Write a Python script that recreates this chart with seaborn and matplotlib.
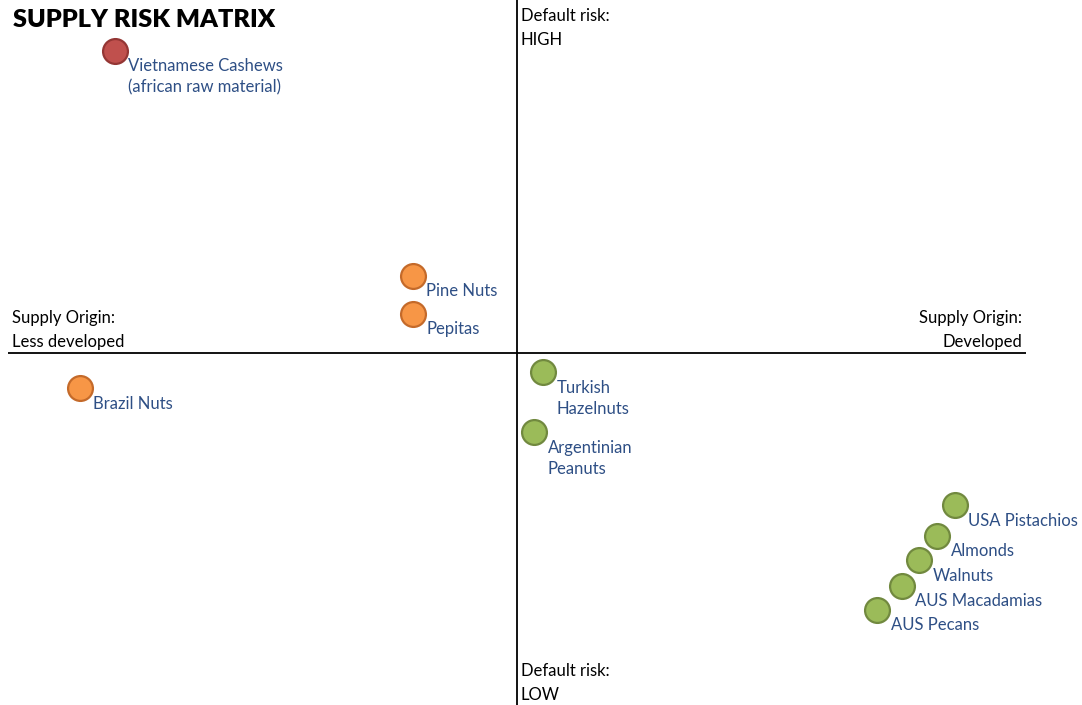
import matplotlib
matplotlib.use("Agg")
import matplotlib.pyplot as plt
import seaborn as sns
import pandas as pd

# ---- data ----
products = ["Vietnamese Cashews\n(african raw material)", "Pine Nuts", "Pepitas", "Brazil Nuts",
            "Turkish\nHazelnuts", "Argentinian\nPeanuts", "USA Pistachios", "Almonds",
            "Walnuts", "AUS Macadamias", "AUS Pecans"]
supply_origin = [-3.95, -1.02, -1.02, -4.29, 0.26, 0.17, 4.30, 4.13, 3.95, 3.78, 3.54]
default_risk = [4.28, 1.09, 0.55, -0.51, -0.28, -1.13, -2.17, -2.60, -2.95, -3.31, -3.65]
risk_level = ["High", "Medium", "Medium", "Medium", "Low", "Low", "Low", "Low", "Low", "Low", "Low"]

df = pd.DataFrame({"product": products, "x": supply_origin, "y": default_risk, "risk": risk_level})

fill = {"High": "#C0504D", "Medium": "#F79646", "Low": "#9BBB59"}
edge = {"High": "#943634", "Medium": "#C46A2A", "Low": "#71893F"}

sns.set_style("white")
plt.rcParams["font.family"] = ["Lato", "DejaVu Sans"]

W, H = 1082, 705
fig = plt.figure(figsize=(W / 100, H / 100), dpi=100)
ax = fig.add_axes([8 / W, 0, (1026 - 8) / W, 1])
ax.set_xlim(-5, 5)
ax.set_ylim(-5, 5)
ax.axis("off")

ax.axhline(0, color="black", lw=1.3, zorder=1)
ax.axvline(0, color="black", lw=1.3, zorder=1)

for lvl in ["High", "Medium", "Low"]:
    sub = df[df["risk"] == lvl]
    sns.scatterplot(data=sub, x="x", y="y", ax=ax, color=fill[lvl], edgecolor=edge[lvl],
                    linewidth=1.6, s=320, zorder=3, clip_on=False, legend=False)

for _, r in df.iterrows():
    ax.annotate(r["product"], (r["x"], r["y"]), xytext=(9.5, -5.5), textcoords="offset points",
                ha="left", va="top", fontsize=12, color="#2E4F85", linespacing=1.39,
                annotation_clip=False, zorder=4)

txt = dict(fontsize=12, color="black", linespacing=1.58)
fig.text(13 / W, 1 - 20 / H, "SUPPLY RISK MATRIX", fontsize=18.2, fontweight="heavy",
         ha="left", va="center", color="black")
fig.text(521 / W, 1 - 8 / H, "Default risk:\nHIGH", ha="left", va="top", **txt)
fig.text(521 / W, 1 - 663 / H, "Default risk:\nLOW", ha="left", va="top", **txt)
fig.text(12 / W, 1 - 310 / H, "Supply Origin:\nLess developed", ha="left", va="top", **txt)
fig.text(1022 / W, 1 - 310 / H, "Supply Origin:\nDeveloped", ha="right", va="top",
         multialignment="right", **txt)

fig.savefig("out.png", dpi=100, facecolor="white")
